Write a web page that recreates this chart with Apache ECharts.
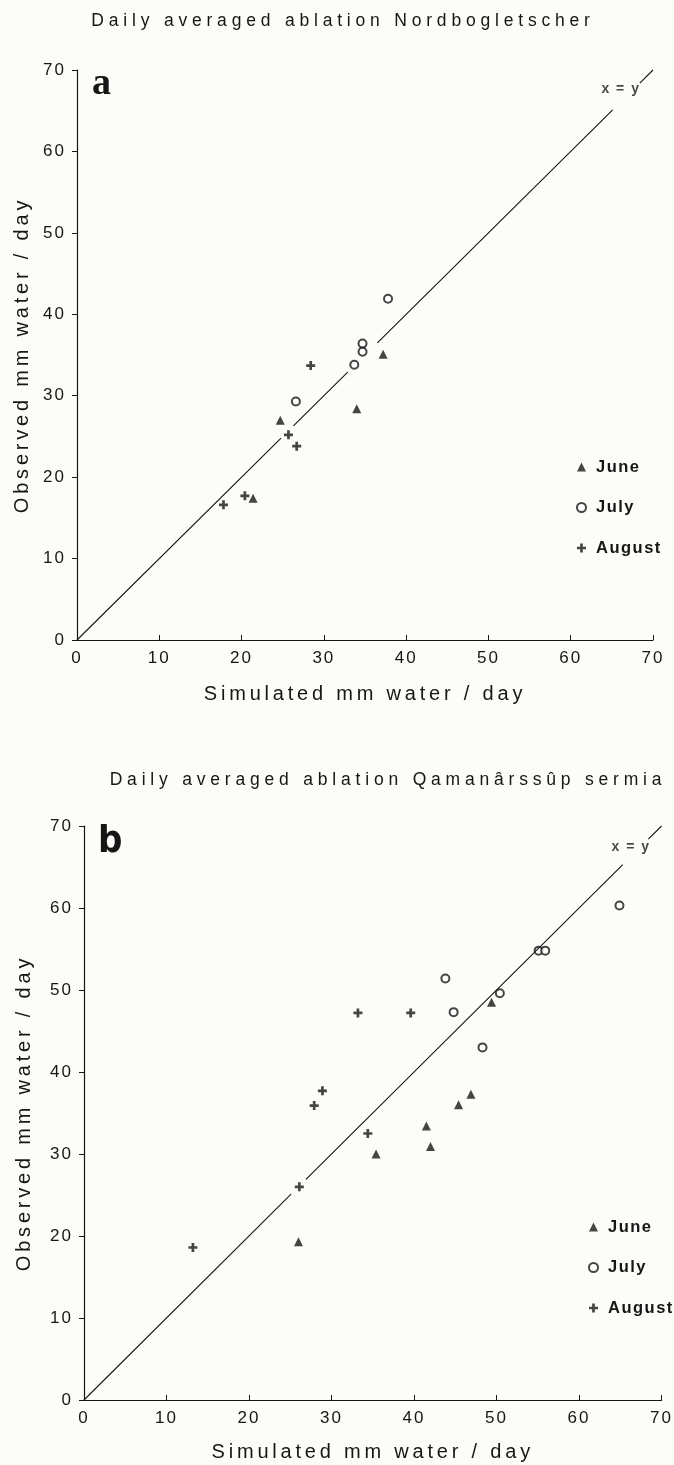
<!DOCTYPE html>
<html>
<head>
<meta charset="utf-8">
<script src="https://cdn.jsdelivr.net/npm/echarts@6/dist/echarts.min.js"></script>
<style>
  html, body { margin: 0; padding: 0; background: #fcfcf9; }
  #main { width: 674px; height: 1465px; }
</style>
</head>
<body>
<div id="main"></div>
<script>
// panel a - Nordbogletscher  [simulated, observed]
const juneA = [[37.2, 35.1], [34.0, 28.4], [24.7, 27.0], [21.4, 17.4]]
const julyA = [[37.8, 41.9], [34.7, 36.4], [34.7, 35.4], [33.7, 33.8], [26.6, 29.3]]
const augustA = [[28.4, 33.7], [25.7, 25.2], [26.7, 23.8], [20.4, 17.7], [17.8, 16.6]]

// panel b - Qamanarssup sermia
const juneB = [[49.4, 48.5], [46.9, 37.3], [45.4, 36.0], [41.5, 33.4], [42.0, 30.9], [35.4, 30.0], [26.0, 19.3]]
const julyB = [[64.9, 60.3], [55.1, 54.8], [55.9, 54.8], [43.8, 51.4], [50.4, 49.6], [44.8, 47.3], [48.3, 43.0]]
const augustB = [[33.2, 47.2], [39.6, 47.2], [28.9, 37.7], [27.9, 35.9], [34.4, 32.5], [26.1, 26.0], [13.2, 18.6]]

// pieces of the x = y line (start, end) - broken where symbols sit on it
const lineSegA = [[0, 24.8], [26.3, 32.9], [36.5, 65.1], [68.4, 70]]
const lineSegB = [[0, 25.1], [26.9, 65.3], [68.4, 70]]
const xyLabelA = [[66.1, 67.7]]
const xyLabelB = [[66.3, 67.4]]

const months = ['June', 'July', 'August']
const titles = ['Daily averaged ablation Nordbogletscher', 'Daily averaged ablation Qamanârssûp sermia']

const ink = '#161616'
const font = "'Liberation Sans', Arial, sans-serif"
const plus = 'path://M3.5,0 H6.5 V3.5 H10 V6.5 H6.5 V10 H3.5 V6.5 H0 V3.5 H3.5 Z'

// the printed figure uses wide letter tracking; echarts has no option for it,
// so set canvas letterSpacing by font size right before each text is drawn
const tracking = { 14: 1.5, 16.5: 1.5, 17: 2, 17.5: 4.8, 20: 3.8 }
const fillText = CanvasRenderingContext2D.prototype.fillText
CanvasRenderingContext2D.prototype.fillText = function (text, x, y, maxWidth) {
  const m = /([\d.]+)px/.exec(this.font)
  this.letterSpacing = ((m && tracking[m[1]]) || 0) + 'px'
  if (maxWidth === undefined) return fillText.call(this, text, x, y)
  return fillText.call(this, text, x, y, maxWidth)
}

function lineData(segs) {
  const out = []
  segs.forEach(s => {
    out.push([s[0], s[0]], [s[1], s[1]], null)
  })
  return out
}

function xAxisOf(idx, gap) {
  return {
    gridIndex: idx, type: 'value', min: 0, max: 70, interval: 10,
    name: 'Simulated mm water / day', nameLocation: 'middle', nameGap: gap,
    nameTextStyle: { fontFamily: font, fontSize: 20, color: ink },
    axisLine: { onZero: false, lineStyle: { color: ink, width: 1.2 } },
    axisTick: { inside: true, length: 5, lineStyle: { color: ink } },
    axisLabel: { margin: 10, fontFamily: font, fontSize: 17, color: ink },
    splitLine: { show: false }
  }
}

function yAxisOf(idx, gap) {
  return {
    gridIndex: idx, type: 'value', min: 0, max: 70, interval: 10,
    name: 'Observed mm water / day', nameLocation: 'middle', nameGap: gap,
    nameTextStyle: { fontFamily: font, fontSize: 20, color: ink },
    axisLine: { onZero: false, lineStyle: { color: ink, width: 1.2 } },
    axisTick: { inside: false, length: 5, lineStyle: { color: ink } },
    axisLabel: { margin: 11, fontFamily: font, fontSize: 17, color: ink },
    splitLine: { show: false }
  }
}

function seriesOf(idx, june, july, august, segs, lbl) {
  return [
    { name: 'June', type: 'scatter', xAxisIndex: idx, yAxisIndex: idx, data: june,
      symbol: 'triangle', symbolSize: 9, itemStyle: { color: ink } },
    { name: 'July', type: 'scatter', xAxisIndex: idx, yAxisIndex: idx, data: july,
      symbol: 'emptyCircle', symbolSize: 8, itemStyle: { color: ink, borderColor: ink, borderWidth: 1.3 } },
    { name: 'August', type: 'scatter', xAxisIndex: idx, yAxisIndex: idx, data: august,
      symbol: plus, symbolSize: 9, itemStyle: { color: ink } },
    { name: 'x = y', type: 'line', xAxisIndex: idx, yAxisIndex: idx, data: lineData(segs),
      symbol: 'none', clip: false, silent: true, lineStyle: { color: ink, width: 1.1 } },
    { name: 'xy label', type: 'scatter', xAxisIndex: idx, yAxisIndex: idx, data: lbl,
      symbolSize: 0, silent: true,
      label: { show: true, position: 'inside', formatter: 'x = y', fontFamily: font,
        fontSize: 14, fontWeight: 'bold', color: ink } }
  ]
}

function legendOf(left, top) {
  return {
    data: months, orient: 'vertical', left: left, top: top, padding: 0,
    itemWidth: 9, itemHeight: 9, itemGap: 20.5, selectedMode: false,
    textStyle: { fontFamily: font, fontSize: 16.5, fontWeight: 'bold', color: ink,
      lineHeight: 20, padding: [0, 0, 0, 5] }
  }
}

const chart = echarts.init(document.getElementById('main'), null, { renderer: 'canvas' })

const option = {
  backgroundColor: '#fcfcf9',
  animation: false,
  title: [
    { text: titles[0], left: 343, top: 12, textAlign: 'center', padding: 0,
      textStyle: { fontFamily: font, fontSize: 17.5, fontWeight: 'normal', color: ink } },
    { text: titles[1], left: 388, top: 771, textAlign: 'center', padding: 0,
      textStyle: { fontFamily: font, fontSize: 17.5, fontWeight: 'normal', color: ink } },
    { text: 'a', left: 92, top: 65, padding: 0,
      textStyle: { fontFamily: "'Liberation Serif', 'DejaVu Serif', serif", fontSize: 38, fontWeight: 'bold', color: ink } },
    { text: 'b', left: 98, top: 823, padding: 0,
      textStyle: { fontFamily: "'Liberation Sans Narrow', 'DejaVu Sans Condensed', sans-serif", fontSize: 38, fontWeight: 'bold', color: ink } }
  ],
  legend: [legendOf(576, 457), legendOf(588, 1217)],
  grid: [
    { left: 77, top: 70, width: 576, height: 570 },
    { left: 84, top: 826, width: 578, height: 574 }
  ],
  xAxis: [xAxisOf(0, 44), xAxisOf(1, 42)],
  yAxis: [yAxisOf(0, 45), yAxisOf(1, 50)],
  series: [].concat(
    seriesOf(0, juneA, julyA, augustA, lineSegA, xyLabelA),
    seriesOf(1, juneB, julyB, augustB, lineSegB, xyLabelB)
  )
}

chart.setOption(option)
</script>
</body>
</html>
